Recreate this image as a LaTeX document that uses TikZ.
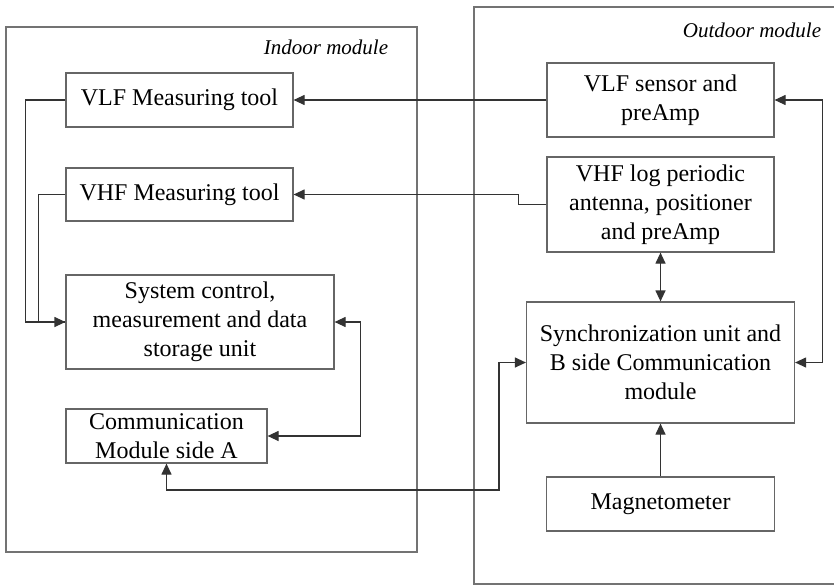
\documentclass[tikz,border=0pt]{standalone}
\usepackage{fontspec}
\setmainfont{Liberation Serif}
\usetikzlibrary{arrows.meta}
\begin{document}
\begin{tikzpicture}[x=1pt,y=-1pt,
  box/.style={draw=black!60,line width=1.2pt,rectangle,align=center,inner sep=0pt,
    font=\fontsize{24}{29}\selectfont},
  frame/.style={draw=black!55,line width=1.4pt},
  conn/.style={draw=black!80,line width=1.2pt},
  arr/.style={conn,-{Triangle[length=11pt,width=10pt]}},
  darr/.style={conn,{Triangle[length=11pt,width=10pt]}-{Triangle[length=11pt,width=10pt]}},
  lbl/.style={font=\fontsize{21}{25}\selectfont\itshape}]
\useasboundingbox (0,0) rectangle (834,586);
\fill[white] (0,0) rectangle (834,586);
% module frames
\draw[frame] (6,27) rectangle (417,552);
\draw[frame] (474,7) rectangle (838,584);
\node[lbl] (indoor) at (326,47) {Indoor module};
\node[lbl] (outdoor) at (752,30) {Outdoor module};
% indoor boxes
\node[box,minimum width=227pt,minimum height=54pt] (vlfm) at (179.5,100) {VLF Measuring tool};
\node[box,minimum width=227pt,minimum height=53pt] (vhfm) at (179.5,194.5) {VHF Measuring tool};
\node[box,minimum width=268pt,minimum height=94pt] (sys) at (200,322) {System control,\\measurement and data\\storage unit};
\node[box,minimum width=201pt,minimum height=54pt] (comm) at (166.5,436) {Communication\\Module side A};
% outdoor boxes
\node[box,minimum width=227pt,minimum height=74pt] (vlfs) at (660.5,100) {VLF sensor and\\preAmp};
\node[box,minimum width=227pt,minimum height=95pt] (vhfl) at (660.5,204.5) {VHF log periodic\\antenna, positioner\\and preAmp};
\node[box,minimum width=268pt,minimum height=121pt] (sync) at (660.5,362.5) {Synchronization unit and\\B side Communication\\module};
\node[box,minimum width=228pt,minimum height=54pt] (mag) at (660.5,504) {Magnetometer};
% connectors
\coordinate (j1) at (499,490);
\draw[arr] (vlfs.west) -- (vlfm.east);
\draw[arr] (vhfl.west) -- ++(-28,0) |- (vhfm.east);
\draw[arr] (vlfm.west) -- ++(-40,0) |- (sys.west);
\draw[conn] (vhfm.west) -- ++(-27,0) |- (sys.west);
\draw[darr] (sys.east) -- ++(26,0) |- (comm.east);
\draw[darr] (comm.south) |- (j1) |- (sync.west);
\draw[darr] (vhfl.south) -- (sync.north);
\draw[arr] (mag.north) -- (sync.south);
\draw[darr] (vlfs.east) -- ++(48,0) |- (sync.east);
\end{tikzpicture}
\end{document}
